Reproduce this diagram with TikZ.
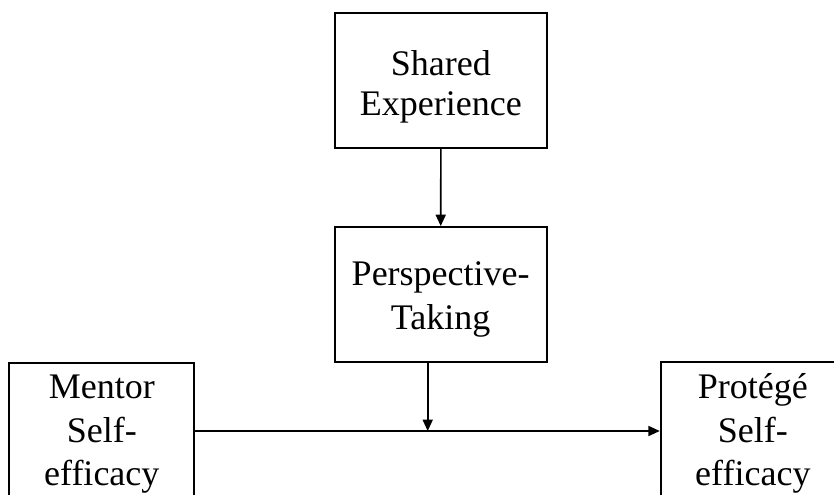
\documentclass[tikz,border=0pt]{standalone}
\usepackage{fontspec}
\setmainfont{Liberation Serif}
\usetikzlibrary{arrows.meta}
\begin{document}
\begin{tikzpicture}[x=0.75pt,y=-0.75pt,
  box/.style={draw=black, line width=1.4pt, rectangle, align=center, inner sep=0pt,
    font=\fontsize{27}{32.5}\selectfont},
  conn/.style={line width=1.2pt, -{Triangle[length=8.5pt,width=7.5pt]}}]
\useasboundingbox (0,0) rectangle (834,495);
\clip (0,0) rectangle (834,495);
\node[box, minimum width=159.2pt, minimum height=101.25pt, font=\fontsize{27}{30}\selectfont] (shared) at (440.85,80.5) {\rule{0pt}{27.6pt}Shared\\Experience};
\node[box, minimum width=159pt, minimum height=101.25pt, font=\fontsize{27}{33}\selectfont] (persp) at (440.7,294.5) {\rule{0pt}{25.4pt}Perspective-\\Taking};
\node[box, minimum width=138.75pt, minimum height=107.25pt] (mentor) at (101.8,434.2) {Mentor\\Self-\\efficacy};
\node[box, minimum width=138.2pt, minimum height=107.25pt] (protege) at (752.85,433.5) {Protégé\\Self-\\efficacy};
\coordinate (j) at (427.7,431);
\draw[conn] (shared.south) -- (persp.north);
\draw[conn] (persp.south -| j) -- (j);
\draw[conn] (mentor.east |- j) -- (protege.west |- j);
\end{tikzpicture}
\end{document}
